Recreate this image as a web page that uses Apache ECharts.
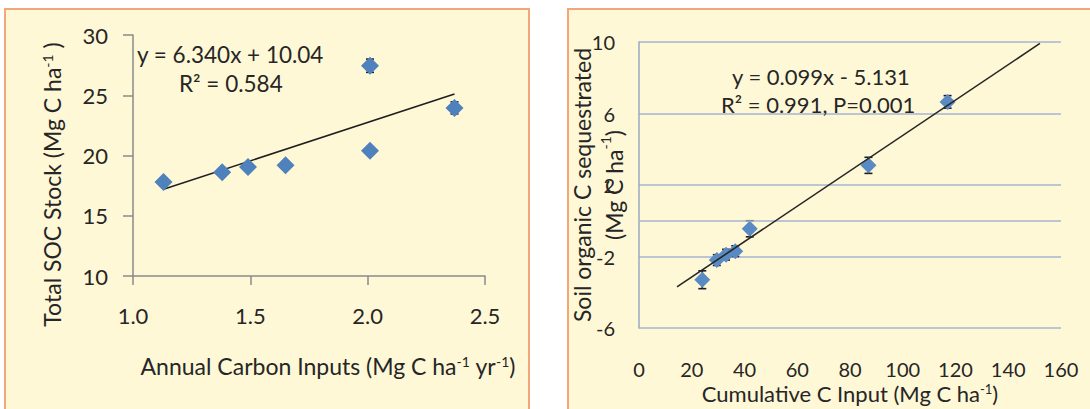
<!DOCTYPE html>
<html>
<head>
<meta charset="utf-8">
<script src="https://cdn.jsdelivr.net/npm/echarts@6/dist/echarts.min.js"></script>
<style>
  html, body { margin: 0; padding: 0; background: #fff; }
  #chart { width: 1090px; height: 409px; }
</style>
</head>
<body>
<div id="chart"></div>
<script>
// left panel: annual C inputs vs total SOC stock
var annualInput = [1.13, 1.38, 1.49, 1.65, 2.01, 2.01, 2.37];
var socStock = [17.8, 18.6, 19.05, 19.2, 27.45, 20.4, 23.95];
var socErr = [0.3, 0.3, 0.35, 0.3, 0.55, 0.3, 0.5];
var socTrend = [[1.13, 17.2], [2.37, 25.1]];
var leftXTicks = [1.0, 1.5, 2.0, 2.5];
var leftYTicks = [10, 15, 20, 25, 30];

// right panel: cumulative C input vs SOC sequestrated
var cumInput = [24, 29.5, 33, 36.5, 42, 87, 117];
var seqC = [-3.3, -2.2, -1.9, -1.7, -0.45, 3.1, 6.65];
var seqErr = [0.5, 0.3, 0.3, 0.3, 0.45, 0.45, 0.35];
var seqTrend = [[14.4, -3.7], [152, 9.92]];
var rightXTicks = [0, 20, 40, 60, 80, 100, 120, 140, 160];
var rightYTicks = [-6, -2, 2, 6, 10];

var FONT = 'Lato';
var TXT = '#262626';
var BLUE = '#4F81BD';

function pts(xs, ys) {
  return xs.map(function (x, i) { return [x, ys[i]]; });
}
function errs(xs, ys, es) {
  return xs.map(function (x, i) { return [x, ys[i] - es[i], ys[i] + es[i]]; });
}

function errorBar(params, api) {
  var top = api.coord([api.value(0), api.value(2)]);
  var bot = api.coord([api.value(0), api.value(1)]);
  var w = 4;
  var st = { stroke: '#1c1c2a', lineWidth: 1.6 };
  return {
    type: 'group',
    children: [
      { type: 'line', shape: { x1: top[0], y1: top[1], x2: bot[0], y2: bot[1] }, style: st },
      { type: 'line', shape: { x1: top[0] - w, y1: top[1], x2: top[0] + w, y2: top[1] }, style: st },
      { type: 'line', shape: { x1: bot[0] - w, y1: bot[1], x2: bot[0] + w, y2: bot[1] }, style: st }
    ]
  };
}

function supRich(size) {
  return { sup: { fontFamily: FONT, fontSize: size, verticalAlign: 'top', color: TXT } };
}

var chart = echarts.init(document.getElementById('chart'), null, { renderer: 'svg' });

var option = {
  backgroundColor: '#ffffff',
  animation: false,
  textStyle: { fontFamily: FONT },
  graphic: [
    { type: 'rect', z: -10, shape: { x: 5, y: 9, width: 524, height: 420 },
      style: { fill: '#FFF8D6', stroke: '#F4A57A', lineWidth: 2 } },
    { type: 'rect', z: -10, shape: { x: 568, y: 9, width: 540, height: 420 },
      style: { fill: '#FFF8D6', stroke: '#F4A57A', lineWidth: 2 } },
    { type: 'text', z: 100, left: 137, top: 43,
      style: { text: 'y = 6.340x + 10.04', font: '22.5px Lato', fill: TXT } },
    { type: 'text', z: 100, left: 179, top: 72,
      style: { text: 'R² = 0.584', font: '22.5px Lato', fill: TXT } },
    { type: 'text', z: 100, left: 732, top: 65,
      style: { text: 'y = 0.099x - 5.131', font: '22px Lato', fill: TXT } },
    { type: 'text', z: 100, left: 721, top: 93,
      style: { text: 'R² = 0.991, P=0.001', font: '22px Lato', fill: TXT } }
  ],
  grid: [
    { left: 133, top: 35, width: 352, height: 241 },
    { left: 639, top: 42, width: 422, height: 286 }
  ],
  xAxis: [
    {
      gridIndex: 0, type: 'value',
      min: leftXTicks[0], max: leftXTicks[leftXTicks.length - 1], interval: 0.5,
      name: 'Annual Carbon Inputs (Mg C ha{sup|-1} yr{sup|-1})',
      nameLocation: 'middle', nameGap: 78, nameMoveOverlap: false,
      nameTextStyle: { fontFamily: FONT, fontSize: 23, color: TXT, padding: [0, 0, 0, 38], rich: supRich(14) },
      axisLine: { show: true, onZero: false, lineStyle: { color: '#8a8a8a', width: 1.5 } },
      axisTick: { show: true, length: 9, lineStyle: { color: '#8a8a8a', width: 1.5 } },
      axisLabel: { margin: 28, fontFamily: FONT, fontSize: 22, color: TXT,
        formatter: function (v) { return v.toFixed(1); } },
      splitLine: { show: false }
    },
    {
      gridIndex: 1, type: 'value',
      min: rightXTicks[0], max: rightXTicks[rightXTicks.length - 1], interval: 20,
      name: 'Cumulative C Input (Mg C ha{sup|-1})',
      nameLocation: 'middle', nameGap: 54, nameMoveOverlap: false,
      nameTextStyle: { fontFamily: FONT, fontSize: 22, color: TXT, rich: supRich(13) },
      axisLine: { show: false },
      axisTick: { show: false },
      axisLabel: { margin: 31, fontFamily: FONT, fontSize: 20, color: TXT },
      splitLine: { show: false }
    }
  ],
  yAxis: [
    {
      gridIndex: 0, type: 'value',
      min: leftYTicks[0], max: leftYTicks[leftYTicks.length - 1], interval: 5,
      name: 'Total SOC Stock (Mg C ha{sup|-1} )',
      nameLocation: 'middle', nameGap: 70, nameRotate: 90, nameMoveOverlap: false,
      nameTextStyle: { fontFamily: FONT, fontSize: 23, color: TXT, padding: [0, 58, 0, 0], rich: supRich(14) },
      axisLine: { show: true, onZero: false, lineStyle: { color: '#8a8a8a', width: 1.5 } },
      axisTick: { show: true, length: 10, lineStyle: { color: '#8a8a8a', width: 1.5 } },
      axisLabel: { margin: 25, fontFamily: FONT, fontSize: 22, color: TXT },
      splitLine: { show: false }
    },
    {
      gridIndex: 1, type: 'value',
      min: rightYTicks[0], max: rightYTicks[rightYTicks.length - 1], interval: 4,
      name: 'Soil organic C sequestrated\n(Mg C ha{sup|-1})',
      nameLocation: 'middle', nameGap: 9, nameRotate: 90, nameMoveOverlap: false,
      nameTextStyle: { fontFamily: FONT, fontSize: 23, lineHeight: 32, color: TXT, rich: supRich(14) },
      axisLine: { show: true, onZero: false, lineStyle: { color: '#9AAAC0', width: 1.5 } },
      axisTick: { show: false },
      axisLabel: { margin: 24, fontFamily: FONT, fontSize: 20, color: TXT },
      splitLine: { show: true, lineStyle: { color: '#A4B6D0', width: 1.5 } }
    }
  ],
  series: [
    {
      type: 'line', xAxisIndex: 0, yAxisIndex: 0, data: socTrend,
      showSymbol: false, lineStyle: { color: '#1e1e1e', width: 1.6 }, z: 3
    },
    {
      type: 'custom', xAxisIndex: 0, yAxisIndex: 0,
      data: errs(annualInput, socStock, socErr), renderItem: errorBar, z: 2
    },
    {
      type: 'scatter', xAxisIndex: 0, yAxisIndex: 0, data: pts(annualInput, socStock),
      symbol: 'diamond', symbolSize: 18, itemStyle: { color: BLUE, opacity: 1 }, z: 4
    },
    {
      type: 'line', xAxisIndex: 1, yAxisIndex: 1, data: seqTrend,
      showSymbol: false, lineStyle: { color: '#262626', width: 1.6 }, z: 5,
      markLine: {
        silent: true, symbol: 'none', label: { show: false },
        lineStyle: { color: '#A4B6D0', width: 1.5, type: 'solid' },
        data: [{ yAxis: 0 }]
      }
    },
    {
      type: 'custom', xAxisIndex: 1, yAxisIndex: 1,
      data: errs(cumInput, seqC, seqErr), renderItem: errorBar, z: 2
    },
    {
      type: 'scatter', xAxisIndex: 1, yAxisIndex: 1, data: pts(cumInput, seqC),
      symbol: 'diamond', symbolSize: 16, itemStyle: { color: '#5A8AC4', opacity: 1 }, z: 4
    }
  ]
};

chart.setOption(option);
</script>
</body>
</html>
